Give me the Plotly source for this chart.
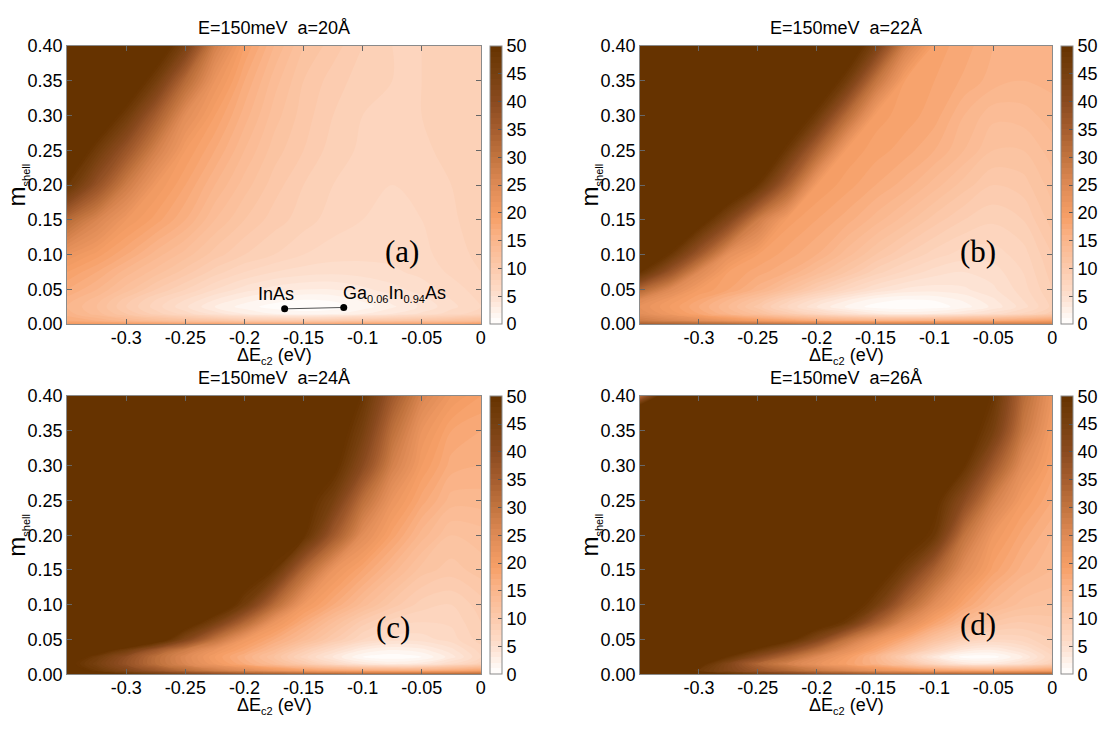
import plotly.graph_objects as go

# ---------------- data ----------------
x_vals = [-0.35, -0.325, -0.3, -0.275, -0.25, -0.225, -0.2, -0.175,
          -0.15, -0.125, -0.1, -0.075, -0.05, -0.025, 0.0]
y_vals = [0.0, 0.005, 0.015, 0.025, 0.035, 0.05, 0.075, 0.1,
          0.15, 0.2, 0.25, 0.3, 0.35, 0.4]

# rows bottom -> top, columns left -> right
z_a = [
    [21, 20.5, 20, 19.5, 19, 19, 18.5, 18.5, 18.5, 18.5, 19, 19, 19, 19.5, 20],
    [17, 16, 14.5, 13, 12, 11, 10, 9.5, 9.5, 10, 10.5, 11, 11.5, 12, 13],
    [15.5, 13.5, 11, 8.5, 6.5, 4.5, 3, 2, 1.5, 1.8, 2.8, 4, 5.2, 6.5, 7.6],
    [15, 13, 10, 7.5, 5.2, 3, 1.5, 0.5, 0.2, 0.4, 1.5, 2.8, 4.2, 5.7, 7],
    [15.5, 13.5, 10.5, 8, 6, 4, 2.5, 1.5, 1, 1.2, 2.2, 3.4, 4.6, 6, 7.2],
    [17, 15, 12.5, 10, 8, 6, 4.5, 3.5, 3, 3, 3.7, 4.6, 5.5, 6.5, 7.5],
    [19, 17, 14.5, 12.5, 10.5, 8.5, 7, 6, 5.5, 5.3, 5.5, 5.8, 6.3, 7.2, 8],
    [22, 19.5, 17, 14.5, 12.5, 10.5, 9, 8, 7, 6.5, 6.3, 6.3, 6.7, 7.5, 8.3],
    [32, 26, 21, 18.5, 16, 13, 11, 9.5, 8.5, 7.5, 7, 6.8, 7, 7.8, 8.6],
    [49, 38, 28, 21, 18, 15, 12.5, 10.5, 9, 8, 7.3, 7, 7.3, 8, 8.8],
    [58, 47, 37, 27, 20, 17, 14, 11.5, 10, 8.5, 7.8, 7.5, 7.8, 8.3, 9],
    [67, 57, 47, 35, 24, 19, 15.5, 12.5, 10.5, 9, 8, 7.8, 8, 8.5, 9],
    [78, 68, 57, 46, 32, 22, 17, 13.5, 11, 9.5, 8.5, 8, 8, 8.5, 9],
    [90, 80, 68, 56, 44, 27, 19, 15, 12, 10.5, 9, 8, 8, 8.5, 9],
]

z_b = [
    [35, 34, 33, 32, 31, 30, 29, 28, 28, 28, 28, 28, 28, 28, 28],
    [28, 26, 24, 22, 20, 18.5, 17, 16, 15.5, 15.5, 16, 16.5, 17, 18, 19],
    [24, 21, 18, 15, 12.5, 9.5, 7, 4.8, 3.2, 2.6, 3, 4, 5.5, 7.2, 9.5],
    [23, 20, 17, 14, 10.5, 7, 4, 1.8, 0.5, 0.2, 0.4, 1.5, 3.3, 5.5, 8.3],
    [25, 21, 18, 15, 12, 8.5, 5.5, 3.2, 1.5, 0.9, 1.1, 2.2, 3.8, 6, 8.5],
    [33, 25, 20, 18, 15.5, 12.5, 9.5, 7, 5, 3.8, 3.5, 3.8, 4.8, 6.5, 9],
    [50, 37.5, 25, 19, 17.5, 16, 13.5, 11, 8.5, 6.8, 5.5, 5, 5.5, 7, 9.5],
    [59, 49, 36, 23, 19, 17.5, 16, 13.5, 11, 9, 7.5, 6.5, 6.5, 7.5, 10],
    [66, 60, 54, 42, 28, 19.5, 18, 16.5, 14.5, 12.5, 10.5, 9, 8.2, 9, 11.5],
    [74, 69, 64, 59, 49, 34.5, 20, 18.5, 17, 15.5, 13.5, 11.5, 10, 10.5, 12.5],
    [82, 77, 72, 66, 59, 48, 33, 19.8, 18.5, 17.5, 16, 14, 12, 12, 13.5],
    [90, 84, 78, 72, 66, 58, 47.5, 32, 19.5, 18.5, 17.5, 15, 13.3, 13.5, 14.5],
    [98, 92, 86, 80, 74, 67, 58, 46.7, 30, 19, 18, 16.8, 15.5, 15, 15.3],
    [106, 100, 94, 88, 82, 75, 66, 57, 44, 27, 18.5, 17.5, 16, 15.5, 15.5],
]

z_c = [
    [60, 55, 50, 46, 43, 40, 38, 36, 35, 34, 33, 33, 33, 33, 33],
    [55, 48, 42, 37, 32, 28, 25, 22, 20, 18.5, 17.5, 17, 17, 18, 19],
    [52, 45, 38, 31, 25.5, 21, 17, 13.5, 10, 6.5, 3.8, 2.8, 3.5, 6, 8.5],
    [55, 47, 39, 31, 25, 20, 16, 12, 7.5, 3.8, 1, 0.3, 1, 3.5, 7],
    [62, 54, 46, 36, 28, 22, 18, 14, 9.5, 6, 3, 2, 2.6, 4.6, 7.5],
    [78, 71, 64, 55, 42, 30, 21, 17, 13.5, 10, 7, 5.5, 5.5, 6.5, 8.5],
    [85, 77, 70, 63, 55, 45, 33, 22, 17, 13, 9.5, 7.5, 7, 7.2, 9],
    [90, 82, 75, 68, 62, 57, 46, 32, 21, 17, 13.5, 10.5, 8.5, 8, 9.5],
    [100, 90, 82, 74, 67, 61, 56, 49, 33, 22, 18, 14.5, 11.5, 10.5, 11.5],
    [110, 100, 90, 80, 72, 65, 59, 54, 50.5, 36, 24, 18.5, 14.5, 12, 12.5],
    [120, 110, 100, 90, 80, 71, 63, 57, 53, 45, 31, 22, 17.5, 14.5, 14.5],
    [130, 120, 110, 100, 90, 80, 70, 62, 56, 52, 40, 27, 20, 16.5, 16],
    [140, 130, 120, 110, 100, 90, 80, 70, 62, 55, 45, 31, 22, 18, 17],
    [150, 140, 130, 120, 110, 100, 90, 80, 72, 62, 49, 36, 26, 21, 19],
]

z_d = [
    [65, 60, 55, 50, 46, 43, 40, 38, 36, 35, 34, 34, 34, 34, 34],
    [60, 55, 48, 42, 37, 33, 29, 26, 23, 21, 19.5, 18.5, 18, 18.5, 19.5],
    [66, 60, 52, 42, 33, 27, 22.5, 19, 15.5, 11.5, 7, 3.8, 3.5, 5.2, 8.5],
    [70, 64, 57, 49, 40, 32, 25, 20, 15, 9, 3.5, 0.5, 0.5, 3, 7],
    [74, 69, 63, 56, 48, 40, 31, 23.5, 18, 12.5, 7.5, 3.8, 3, 4.8, 8],
    [78, 75, 70, 65, 58, 52, 42, 30, 22, 17, 12, 8.5, 7, 7.5, 9],
    [85, 82, 78, 73, 68, 62, 55, 48, 35, 25, 18.5, 14, 11, 10, 10.5],
    [90, 88, 85, 80, 75, 69, 62, 55, 46, 33, 24, 18, 14.5, 12.5, 12],
    [98, 96, 92, 88, 83, 77, 70, 63, 55, 46, 34, 24, 18.5, 15.5, 14],
    [104, 102, 99, 95, 90, 84, 77, 70, 63, 55, 48, 30, 21, 17.5, 15],
    [108, 108, 106, 102, 97, 91, 84, 77, 70, 62, 52, 40, 27, 20, 17],
    [110, 112, 112, 110, 105, 100, 93, 86, 78, 69, 60, 50, 36, 24, 18.5],
    [100, 110, 115, 115, 112, 108, 102, 94, 85, 76, 66, 55, 45, 29, 20],
    [32, 60, 100, 110, 115, 115, 110, 100, 90, 80, 70, 58, 49, 32, 22],
]

panel_titles = ["E=150meV  a=20Å", "E=150meV  a=22Å",
                "E=150meV  a=24Å", "E=150meV  a=26Å"]
panel_letters = ["(a)", "(b)", "(c)", "(d)"]
letter_pos = [(-0.067, 0.105), (-0.063, 0.105), (-0.074, 0.067), (-0.063, 0.071)]

x_tick_vals = [-0.3, -0.25, -0.2, -0.15, -0.1, -0.05, 0]
x_tick_text = ["-0.3", "-0.25", "-0.2", "-0.15", "-0.1", "-0.05", "0"]
y_tick_vals = [0.0, 0.05, 0.1, 0.15, 0.2, 0.25, 0.3, 0.35, 0.4]
y_tick_text = ["0.00", "0.05", "0.10", "0.15", "0.20", "0.25", "0.30", "0.35", "0.40"]
cbar_ticks = [0, 5, 10, 15, 20, 25, 30, 35, 40, 45, 50]

material_x = [-0.166, -0.116]
material_y = [0.022, 0.024]
material_names = ["InAs", "Ga<sub><span style='font-size:11px'>0.06</span></sub>In"
                  "<sub><span style='font-size:11px'>0.94</span></sub>As"]

x_title = "ΔE<sub><span style='font-size:11px'>c2</span></sub> (eV)"
y_title = "m<sub><span style='font-size:11px'>shell</span></sub>"

# ---------------- style ----------------
W, H = 1106, 730
FONT = "Liberation Sans, Arial, sans-serif"
colorscale = [
    [0.0, "#ffffff"], [0.1, "#fde0cf"], [0.2, "#fccaac"], [0.3, "#fab68c"],
    [0.38, "#f7a068"], [0.5, "#de8a55"], [0.6, "#c2743f"], [0.7, "#a55d2e"],
    [0.8, "#8a4a1f"], [0.9, "#77400f"], [1.0, "#663300"],
]

# plot-area pixel boxes: (left, right, top, bottom)
boxes = [(67.5, 483, 37, 323), (643, 1057, 37, 323),
         (67.5, 483, 397, 683), (643, 1057, 397, 683)]
cbar_left = [492, 1066]

fig = go.Figure()
fields = [z_a, z_b, z_c, z_d]

for i, (z, box) in enumerate(zip(fields, boxes)):
    l, r, t, b = box
    n = "" if i == 0 else str(i + 1)
    cb_x = cbar_left[i % 2] / W
    fig.add_trace(go.Contour(
        x=x_vals, y=y_vals, z=z,
        xaxis="x" + n, yaxis="y" + n,
        colorscale=colorscale, zmin=0, zmax=50,
        autocontour=False,
        contours=dict(start=0, end=50, size=1, coloring="fill", showlines=False),
        line=dict(width=0, smoothing=1.0),
        colorbar=dict(
            x=cb_x, xanchor="left", xpad=0, ypad=0,
            y=1 - b / H, yanchor="bottom", len=(b - t) / H, lenmode="fraction",
            thickness=12, thicknessmode="pixels",
            outlinecolor="#8a8a8a", outlinewidth=1,
            tickvals=cbar_ticks, ticks="inside", ticklen=4, tickcolor="#555",
            tickfont=dict(family=FONT, size=18, color="black"),
        ),
        showscale=True,
        hoverinfo="skip",
    ))
    axis_common = dict(showgrid=False, zeroline=False, showline=True,
                       linecolor="#8a8a8a", linewidth=1, mirror="ticks",
                       ticks="inside", ticklen=5, tickcolor="#666",
                       tickfont=dict(family=FONT, size=18, color="black"))
    fig.update_layout(**{
        "xaxis" + n: dict(domain=[l / W, r / W], anchor="y" + n,
                          range=[-0.35, 0], tickvals=x_tick_vals,
                          ticktext=x_tick_text, ticklabelstandoff=-3,
                          **axis_common),
        "yaxis" + n: dict(domain=[1 - b / H, 1 - t / H], anchor="x" + n,
                          range=[0, 0.4], tickvals=y_tick_vals,
                          ticktext=y_tick_text, **axis_common),
    })
    cx = (l + r) / 2 / W
    # panel title
    fig.add_annotation(text=panel_titles[i], xref="paper", yref="paper",
                       x=cx, y=1 - (t - 19) / H, xanchor="center", yanchor="middle",
                       showarrow=False, borderpad=0,
                       font=dict(family=FONT, size=18, color="black"))
    # x-axis title
    fig.add_annotation(text=x_title, xref="paper", yref="paper",
                       x=cx, y=1 - (b + 33) / H, xanchor="center", yanchor="middle",
                       showarrow=False, borderpad=0,
                       font=dict(family=FONT, size=18, color="black"))
    # y-axis title
    fig.add_annotation(text=y_title, xref="paper", yref="paper",
                       x=(l - 50) / W, y=1 - ((t + b) / 2) / H, textangle=-90,
                       xanchor="center", yanchor="middle",
                       showarrow=False, font=dict(family=FONT, size=24, color="black"))
    # panel letter
    lx, ly = letter_pos[i]
    fig.add_annotation(text=panel_letters[i], xref="x" + n, yref="y" + n,
                       x=lx, y=ly, xanchor="center", yanchor="middle",
                       showarrow=False,
                       font=dict(family="Liberation Serif, Times New Roman, serif",
                                 size=31, color="black"))

# material points in panel (a)
fig.add_trace(go.Scatter(
    x=material_x, y=material_y, xaxis="x", yaxis="y",
    mode="lines+markers", line=dict(color="#555", width=1),
    marker=dict(color="black", size=7), showlegend=False, hoverinfo="skip"))
fig.add_annotation(text=material_names[0], xref="x", yref="y",
                   x=material_x[0] - 0.007, y=0.044, xanchor="center", yanchor="middle",
                   showarrow=False, font=dict(family=FONT, size=18, color="black"))
fig.add_annotation(text=material_names[1], xref="x", yref="y",
                   x=material_x[1] - 0.002, y=0.044, xanchor="left", yanchor="middle",
                   showarrow=False, font=dict(family=FONT, size=18, color="black"))

fig.update_layout(width=W, height=H, margin=dict(l=0, r=0, t=0, b=0),
                  paper_bgcolor="white", plot_bgcolor="white", showlegend=False,
                  font=dict(family=FONT, color="black"))

fig.write_html("out.html")
